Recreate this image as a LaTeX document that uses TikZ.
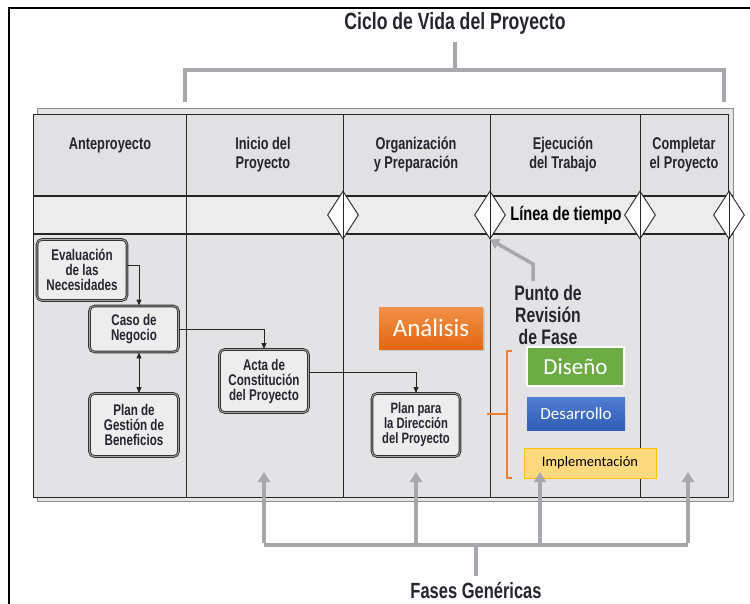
\documentclass[tikz,border=0pt]{standalone}
\usepackage{fontspec}
\setmainfont{Liberation Sans}
\newfontfamily\cond[FakeStretch=0.75]{Liberation Sans}
\newfontfamily\calib{Carlito}
\usetikzlibrary{arrows.meta,shapes.geometric,shadows}
\definecolor{txt}{HTML}{25252F}
\definecolor{gbar}{HTML}{A7A8AC}
\definecolor{hdr}{HTML}{E1E1E3}
\definecolor{band}{HTML}{ECECEC}
\definecolor{bodyc}{HTML}{E3E3E5}
\definecolor{boxf}{HTML}{EDEDED}
\definecolor{analtop}{HTML}{F29048}
\definecolor{analbot}{HTML}{E2680E}
\definecolor{disc}{HTML}{6DAB45}
\definecolor{destop}{HTML}{4F7FD2}
\definecolor{desbot}{HTML}{2F5CB6}
\definecolor{impf}{HTML}{FFD97E}
\definecolor{impd}{HTML}{FFC000}
\definecolor{brk}{HTML}{ED7D31}
\tikzset{
  hdrtext/.style={font=\cond\bfseries\fontsize{17}{19}\selectfont, text=txt, align=center, inner sep=0pt},
  pbox/.style={draw=black!80, line width=0.9pt, double=black!35, double distance=0.8pt,
    rounded corners=5pt, fill=boxf, align=center,
    font=\cond\bfseries\fontsize{15.5}{15}\selectfont, text=txt, inner sep=0pt},
  conn/.style={draw=black!85, line width=0.9pt, -{Triangle[length=6pt,width=5pt]}},
  gbarline/.style={draw=gbar, line width=4pt},
  garrow/.style={draw=gbar, line width=4pt, -{Triangle[length=10pt,width=12pt]}},
  milestone/.style={diamond, draw=black!85, fill=white, line width=0.9pt, aspect=0.65,
    minimum width=31pt, minimum height=48pt, inner sep=0pt},
  colline/.style={draw=black!85, line width=0.8pt},
}
\begin{document}
\begin{tikzpicture}[x=1pt,y=-1pt]
\useasboundingbox (0,0) rectangle (750,603);
% outer frame (clipped)
\begin{scope}
\clip (0,0) rectangle (750,603);
\draw[line width=1.8pt, black] (9,8) rectangle (800,660);
\end{scope}
% title and top bracket
\node[font=\cond\bfseries\fontsize{23.5}{26}\selectfont, text=txt, inner sep=0pt] (title) at (455,23) {Ciclo de Vida del Proyecto};
\coordinate (t0) at (455,42);
\coordinate (tm) at (455,70);
\coordinate (tl) at (185,70);
\coordinate (tr) at (724,70);
\coordinate (tlb) at (185,102);
\coordinate (trb) at (724,102);
\draw[gbarline] (t0) -- (tm);
\draw[gbarline] (tlb) -- (tl) -- (tr) -- (trb);
% table background
\draw[draw=black!45, line width=1pt, fill=black!10] (37,108) rectangle (733,501);
\fill[hdr] (33,114) rectangle (728,196);
\fill[band] (33,196) rectangle (728,234);
\fill[bodyc] (33,234) rectangle (728,497);
\draw[black!85, line width=1pt] (33,114) rectangle (728,497);
\draw[black!85, line width=1.1pt] (33,196) -- (733,196);
\draw[black!85, line width=1.1pt] (33,234) -- (733,234);
% milestones
\node[milestone] (m1) at (343,215) {};
\node[milestone] (m2) at (490,215) {};
\node[milestone] (m3) at (640,215) {};
\node[milestone] (m4) at (729,215) {};
% column lines
\draw[colline] (186,114) -- (186,497);
\draw[colline] (343,114) -- (343,497);
\draw[colline] (490,114) -- (490,497);
\draw[colline] (640,114) -- (640,497);
\draw[colline] (729,191) -- (729,239);
% headers
\node[hdrtext] (h1) at (110,145) {Anteproyecto};
\node[hdrtext] (h2) at (263,155) {Inicio del\\Proyecto};
\node[hdrtext] (h3) at (416,155) {Organización\\y Preparación};
\node[hdrtext] (h4) at (563,155) {Ejecución\\del Trabajo};
\node[hdrtext] (h5) at (684,155) {Completar\\el Proyecto};
\node[font=\cond\bfseries\fontsize{19.5}{20}\selectfont, text=black, inner sep=0pt] (lt) at (566,215) {Línea de tiempo};
% process boxes
\node[pbox, minimum width=90pt, minimum height=61pt] (eval) at (82,270) {Evaluación\\de las\\Necesidades};
\node[pbox, minimum width=89pt, minimum height=46pt] (caso) at (134,329) {Caso de\\Negocio};
\node[pbox, minimum width=89pt, minimum height=63pt] (gest) at (134,425) {Plan de\\Gestión de\\Beneficios};
\node[pbox, minimum width=89pt, minimum height=63pt] (acta) at (264,381) {Acta de\\Constitución\\del Proyecto};
\node[pbox, minimum width=88pt, minimum height=63pt, font=\cond\bfseries\fontsize{15}{15}\selectfont] (plan) at (416,425) {Plan para\\la Dirección\\del Proyecto};
% connectors
\draw[conn] ([yshift=5pt]eval.east) -| ([xshift=5pt]caso.north);
\draw[conn] (caso.east) -| (acta.north);
\draw[conn, {Triangle[length=6pt,width=5pt]}-{Triangle[length=6pt,width=5pt]}] ([xshift=5pt]caso.south) -- ([xshift=5pt]gest.north);
\draw[conn] ([yshift=9pt]acta.east) -| (plan.north);
% phase review
\node[font=\cond\bfseries\fontsize{21}{22}\selectfont, text=txt, align=center, inner sep=0pt] (punto) at (548,315) {Punto de\\Revisión\\de Fase};
\coordinate (p0) at (533,281);
\coordinate (p1) at (533,264);
\draw[draw=gbar, line width=3.5pt, -{Triangle[length=9pt,width=11pt]}] (p0) -- (p1) -- (m2.south);
% colored boxes
\node[drop shadow={opacity=0.25, shadow xshift=1.5pt, shadow yshift=-1.5pt}, top color=analtop, bottom color=analbot, draw=none, minimum width=104pt, minimum height=42pt, text=white, font=\calib\fontsize{25}{28}\selectfont, inner sep=0pt] (anal) at (431,328) {Análisis};
\node[fill=disc, draw=white, line width=1.5pt, minimum width=97pt, minimum height=39pt, text=white, font=\calib\fontsize{23}{26}\selectfont, inner sep=0pt] (dis) at (575.5,366.5) {Diseño};
\node[top color=destop, bottom color=desbot, draw=none, minimum width=98pt, minimum height=33pt, text=white, font=\calib\fontsize{17}{20}\selectfont, inner sep=0pt] (des) at (576,413.5) {Desarrollo};
\node[fill=impf, draw=impd, line width=1pt, minimum width=132pt, minimum height=30pt, text=black, font=\calib\fontsize{14.5}{17}\selectfont, inner sep=0pt] (imp) at (590,463) {Implementación};
% orange bracket
\coordinate (b1) at (512,351);
\coordinate (b2) at (507,351);
\coordinate (b3) at (507,478);
\coordinate (b4) at (512,478);
\coordinate (bm) at (507,414);
\coordinate (bt) at (487,414);
\draw[brk, line width=2.6pt, line join=round] (b1) -- (b2) -- (b3) -- (b4);
\draw[brk, line width=2.6pt] (bt) -- (bm);
% bottom bracket
\coordinate (fa) at (264,545);
\coordinate (fb) at (416,545);
\coordinate (fc) at (540,545);
\coordinate (fd) at (688,545);
\coordinate (fm) at (476,545);
\coordinate (fs) at (476,576);
\coordinate (ua) at (264,472);
\coordinate (ub) at (416,472);
\coordinate (uc) at (540,472);
\coordinate (ud) at (688,472);
\draw[gbarline] (fa) -- (fd);
\draw[gbarline] (fm) -- (fs);
\draw[garrow] ([yshift=2pt]fa) -- (ua);
\draw[garrow] ([yshift=2pt]fb) -- (ub);
\draw[garrow] ([yshift=2pt]fc) -- (uc);
\draw[garrow] ([yshift=2pt]fd) -- (ud);
\node[font=\cond\bfseries\fontsize{22}{24}\selectfont, text=txt, inner sep=0pt] (fases) at (476,591) {Fases Genéricas};
\end{tikzpicture}
\end{document}
